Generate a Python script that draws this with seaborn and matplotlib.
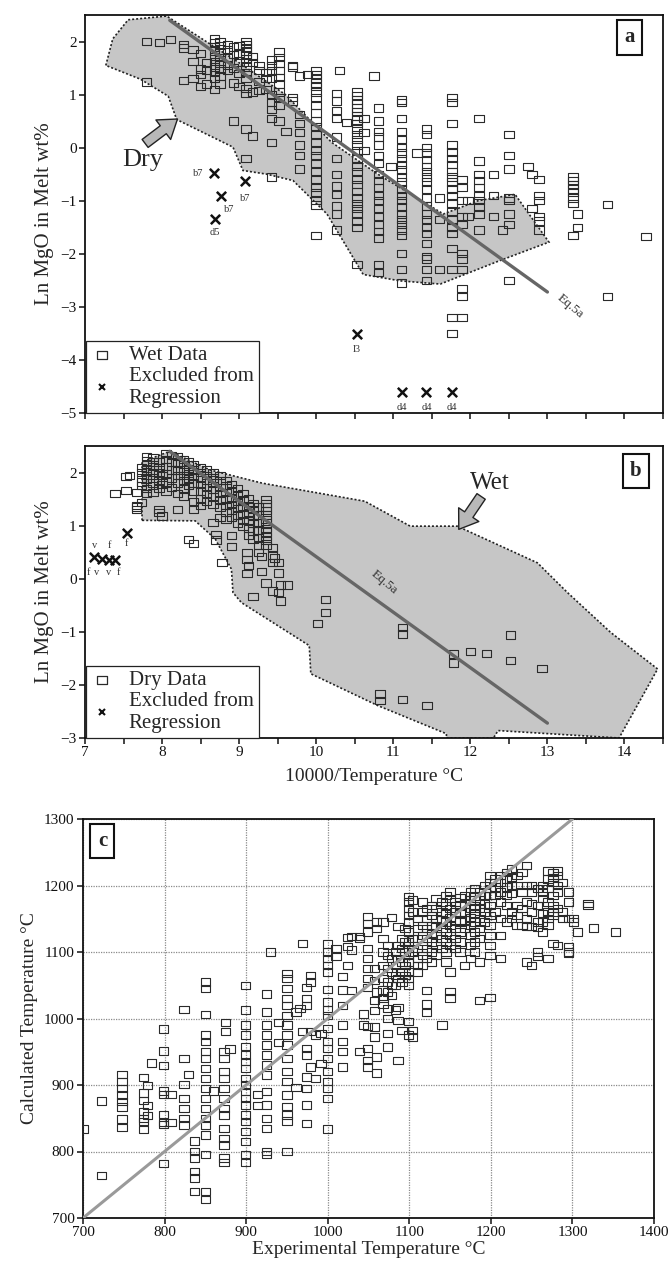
import numpy as np
import pandas as pd
import matplotlib
matplotlib.use("Agg")
import matplotlib.pyplot as plt
import seaborn as sns
from matplotlib.path import Path
from matplotlib.lines import Line2D

sns.set_style("ticks")
plt.rcParams["font.family"] = ["Liberation Serif", "DejaVu Serif"]
plt.rcParams["axes.edgecolor"] = "#111111"

# ---------------- Panel a : wet data (x = 10000/T, y = ln MgO) -------------
wet_x = [7.80, 7.97, 8.11, 8.28, 8.40, 8.50, 8.58, 8.68, 8.75, 8.85, 8.93, 9.00,
         9.09, 9.17, 9.26, 9.35, 9.42, 9.52, 9.61, 9.69, 9.78, 9.89, 10.0, 10.26,
         10.3, 10.39, 10.53, 10.62, 10.75, 10.81, 10.97, 11.11, 11.31, 11.43, 11.6,
         11.76, 11.89, 11.97, 12.11, 12.3, 12.42, 12.5, 12.75, 12.8, 12.89, 13.33,
         13.39, 13.78, 14.28]
wet_y = [[2.0, 1.24], [1.98], [2.04], [1.94, 1.88, 1.26], [1.85, 1.62, 1.3],
         [1.78, 1.48, 1.38, 1.15], [1.6, 1.45, 1.2],
         [2.05, 1.98, 1.9, 1.82, 1.72, 1.62, 1.52, 1.42, 1.3, 1.1],
         [2.0, 1.92, 1.8, 1.7, 1.58, 1.48, 1.35, 1.2],
         [1.95, 1.85, 1.7, 1.55, 1.45], [1.9, 1.75, 1.5, 1.22, 0.5],
         [1.92, 1.78, 1.6, 1.4, 1.15],
         [2.0, 1.95, 1.88, 1.82, 1.75, 1.68, 1.6, 1.52, 1.42, 1.3, 1.12, 1.02, 0.35, -0.2],
         [1.72, 1.6, 1.05, 0.22], [1.55, 1.45, 1.25, 1.08], [1.42, 1.3, 1.1],
         [1.65, 1.55, 1.45, 1.3, 1.0, 0.85, 0.72, 0.55, 0.1, -0.55],
         [1.8, 1.7, 1.58, 1.45, 1.32, 1.2, 1.05, 0.95, 0.8, 0.5], [0.3],
         [1.55, 1.52, 0.95, 0.88], [1.35, 0.62, 0.45, 0.28, 0.05, -0.15, -0.4], [1.38],
         [1.45, 1.38, 1.3, 1.22, 1.15, 1.05, 0.95, 0.8, 0.65, 0.5, 0.4, 0.25, 0.1,
          -0.05, -0.15, -0.3, -0.45, -0.6, -0.75, -0.85, -1.0, -1.08, -1.65],
         [1.02, 0.88, 0.7, 0.55, 0.2, -0.2, -0.5, -0.72, -0.88, -1.1, -1.25, -1.55],
         [1.45], [0.47],
         [1.05, 0.98, 0.9, 0.82, 0.75, 0.68, 0.6, 0.52, 0.45, 0.35, 0.25, 0.15, 0.05,
          -0.05, -0.2, -0.35, -0.45, -0.6, -0.7, -0.82, -0.95, -1.05, -1.15, -1.25,
          -1.38, -1.5, -2.2],
         [0.55, 0.28, -0.05], [1.35],
         [0.75, 0.5, 0.3, 0.2, 0.05, -0.15, -0.3, -0.5, -0.62, -0.75, -0.9, -1.0,
          -1.15, -1.3, -1.45, -1.58, -1.7, -2.2, -2.35],
         [-0.35],
         [0.9, 0.85, 0.55, 0.3, 0.15, 0.0, -0.1, -0.2, -0.32, -0.42, -0.55, -0.65,
          -0.78, -0.9, -1.0, -1.12, -1.25, -1.35, -1.45, -1.55, -1.65, -2.0, -2.3, -2.55],
         [-0.1],
         [0.35, 0.25, 0.0, -0.1, -0.22, -0.35, -0.45, -0.55, -0.65, -0.78, -0.95,
          -1.1, -1.25, -1.35, -1.5, -1.62, -1.8, -2.05, -2.1, -2.3, -2.5],
         [-0.95, -1.35, -2.3],
         [0.95, 0.85, 0.45, 0.05, -0.08, -0.2, -0.32, -0.45, -0.55, -0.65, -0.78,
          -0.9, -1.05, -1.2, -1.35, -1.5, -1.62, -1.9, -2.3, -3.2, -3.5],
         [-0.6, -0.75, -1.0, -1.3, -1.45, -2.0, -2.1, -2.3, -2.65, -2.8, -3.2],
         [-1.0, -1.3],
         [0.55, -0.25, -0.5, -0.62, -0.75, -0.9, -1.0, -1.12, -1.25, -1.55],
         [-0.5, -0.9, -1.3], [-1.55],
         [0.25, -0.15, -0.4, -0.95, -1.0, -1.25, -1.45, -2.5],
         [-0.35], [-0.5, -1.15], [-0.6, -0.9, -1.0, -1.3, -1.38, -1.55],
         [-0.55, -0.62, -0.7, -0.78, -0.85, -0.95, -1.05, -1.65],
         [-1.25, -1.5], [-1.07, -2.8], [-1.67]]

a_excl_x = [8.67, 9.08, 8.77, 8.69, 10.53, 11.11, 11.43, 11.76]
a_excl_y = [-0.48, -0.63, -0.91, -1.34, -3.51, -4.61, -4.61, -4.61]
a_excl_lab = ["b7", "b7", "b7", "d5", "l3", "d4", "d4", "d4"]
a_lab_x = [8.47, 9.08, 8.87, 8.69, 10.53, 11.11, 11.43, 11.76]
a_lab_y = [-0.48, -0.96, -1.17, -1.60, -3.80, -4.89, -4.89, -4.89]

dry_poly_x = [7.27, 7.36, 7.56, 8.06, 9.0, 9.6, 10.2, 10.8, 11.65, 12.1, 12.58,
              13.02, 12.38, 11.61, 11.09, 10.61, 10.14, 9.70, 9.36, 9.05, 8.92,
              8.19, 8.08, 7.72]
dry_poly_y = [1.55, 2.05, 2.41, 2.48, 1.6, 1.0, 0.1, -0.5, -1.25, -1.0, -0.88,
              -1.78, -2.13, -2.57, -2.51, -2.39, -1.25, -0.62, -0.50, -0.43, 0.01,
              0.53, 0.97, 1.29]

# ---------------- Panel b : dry data ---------------------------------------
dry_x = [7.39, 7.53, 7.58, 7.67, 7.73, 7.80, 7.88, 7.96, 8.0, 8.05, 8.12, 8.2,
         8.28, 8.34, 8.41, 8.5, 8.58, 8.66, 8.7, 8.75, 8.78, 8.83, 8.9, 8.98, 9.05,
         9.1, 9.12, 9.18, 9.25, 9.29, 9.35, 9.43, 9.46, 9.51, 9.54, 9.63, 10.02,
         10.12, 10.83, 11.12, 11.44, 11.78, 12.0, 12.21, 12.52, 12.93]
dry_y = [[1.6], [1.66, 1.92], [1.95], [1.62, 1.38, 1.3, 1.35],
         [2.1, 2.0, 1.9, 1.82, 1.75, 1.43],
         [2.3, 2.22, 2.15, 2.05, 1.95, 1.88, 1.7, 1.6],
         [2.28, 2.2, 2.12, 2.0, 1.9, 1.8, 1.62],
         [2.2, 2.1, 2.0, 1.85, 1.7, 1.3, 1.25], [1.18, 1.95, 1.78],
         [2.36, 2.25, 2.12, 1.98, 1.82, 1.65], [2.32, 2.2, 2.05, 1.9, 1.72],
         [2.3, 2.18, 2.05, 1.95, 1.8, 1.6, 1.3],
         [2.25, 2.15, 2.05, 1.95, 1.85, 1.7, 1.55],
         [2.2, 2.08, 1.98, 1.88, 1.75, 0.74],
         [2.15, 2.05, 1.92, 1.8, 1.65, 1.45, 1.3, 0.66],
         [2.1, 2.0, 1.9, 1.78, 1.65, 1.5, 1.38],
         [2.05, 1.95, 1.85, 1.72, 1.6, 1.45],
         [2.0, 1.9, 1.8, 1.68, 1.55, 1.4, 1.06], [0.83, 0.73],
         [1.95, 1.85, 1.72, 1.6, 1.48, 1.35, 1.15], [0.3],
         [1.85, 1.75, 1.62, 1.5, 1.38, 1.25, 1.12],
         [1.78, 1.65, 1.52, 1.4, 1.28, 1.15, 0.81, 0.61],
         [1.7, 1.58, 1.45, 1.32, 1.2, 1.05], [1.6, 1.48, 1.35, 1.22, 1.1, 0.98],
         [0.49, 0.36, 0.1], [1.5, 1.38, 1.25, 1.1, 0.95, 0.82, 0.25],
         [1.42, 1.3, 1.18, 1.05, 0.9, 0.75, -0.33],
         [1.35, 1.2, 1.05, 0.92, 0.78, 0.62, 0.5], [0.14, 0.42],
         [1.49, 1.42, 1.35, 1.28, 1.2, 1.12, 1.05, 0.95, 0.88, 0.8, 0.72, 0.62, -0.08],
         [0.58, 0.45, 0.3, -0.23], [0.39], [0.3, 0.11, -0.26], [-0.12, -0.42],
         [-0.12], [-0.84], [-0.39, -0.63], [-2.17, -2.29], [-0.92, -1.04, -2.28],
         [-2.39], [-1.42, -1.59], [-1.37], [-1.41], [-1.06, -1.54], [-1.69]]

b_excl_x = [7.12, 7.22, 7.31, 7.39, 7.54]
b_excl_y = [0.41, 0.38, 0.36, 0.36, 0.87]
b_lab_text = ["v", "f", "f", "v", "v", "f", "f"]
b_lab_x = [7.12, 7.32, 7.05, 7.15, 7.31, 7.44, 7.54]
b_lab_y = [0.62, 0.62, 0.12, 0.12, 0.12, 0.12, 0.66]

wet_poly_x = [7.74, 7.74, 8.1, 8.62, 9.3, 10.63, 11.22, 11.83, 12.87, 13.26, 13.82,
              14.43, 13.93, 12.36, 12.30, 11.69, 11.69, 10.8, 9.93, 9.91, 9.03,
              8.92, 8.90, 8.69, 8.43]
wet_poly_y = [1.10, 2.2, 2.4, 2.05, 1.8, 1.46, 0.99, 0.99, 0.30, -0.26, -1.01,
              -1.70, -3.0, -2.86, -3.0, -3.0, -2.92, -2.39, -1.79, -1.26, -0.45,
              -0.26, 0.18, 0.75, 1.09]

eq_x = [8.1, 13.0]
eq_y = [2.4, -2.72]

# ---------------- Panel c : experimental vs calculated T -------------------
c_exp = [700, 723, 748, 774, 779, 784, 799, 808, 824, 829, 837, 850, 860, 873,
         875, 880, 899, 914, 925, 930, 940, 950, 961, 966, 969, 974, 979, 985,
         992, 1000, 1010, 1018, 1024, 1029, 1039, 1044, 1049, 1057, 1060, 1068,
         1073, 1078, 1083, 1086, 1091, 1095, 1099, 1104, 1110, 1116, 1121, 1127,
         1133, 1140, 1145, 1150, 1156, 1162, 1168, 1175, 1180, 1186, 1192, 1199,
         1205, 1212, 1219, 1225, 1232, 1238, 1244, 1250, 1257, 1263, 1270, 1276,
         1282, 1288, 1295, 1301, 1306, 1319, 1326, 1353]
c_calc = [[834], [876, 764], [916, 905, 895, 885, 875, 867, 849, 836],
          [911, 888, 877, 860, 850, 845, 833], [899, 869, 854], [933],
          [984, 951, 929, 891, 886, 856, 844, 841, 782], [886, 844],
          [1014, 940, 901, 880, 865, 850, 840], [916],
          [816, 800, 790, 770, 760, 740],
          [1055, 1045, 1006, 975, 965, 950, 940, 925, 910, 895, 880, 865, 850,
           840, 825, 795, 740, 728],
          [891],
          [950, 940, 920, 910, 895, 880, 865, 855, 835, 820, 810, 790, 783],
          [994, 980], [954],
          [1050, 1013, 990, 975, 958, 945, 935, 925, 910, 900, 890, 880, 870, 855,
           845, 830, 815, 795, 783],
          [886, 869],
          [1037, 1010, 990, 975, 960, 945, 930, 915, 890, 870, 850, 835, 800, 795],
          [1100], [994, 964],
          [1068, 1060, 1045, 1030, 1020, 1005, 990, 975, 960, 940, 920, 905, 885,
           868, 855, 846, 800],
          [1010, 896], [1015], [1113, 980],
          [1047, 1030, 1020, 955, 945, 912, 895, 870, 842],
          [1065, 1055, 980, 927], [975, 910], [977, 932],
          [1112, 1100, 1090, 1080, 1070, 1044, 1025, 1013, 1005, 985, 965, 955,
           940, 920, 905, 895, 880, 834],
          [1105, 1093], [1063, 1043, 1020, 990, 965, 950, 927], [1122, 1108, 1080],
          [1123, 1103, 1042], [1123, 1120, 950], [1007, 990],
          [1153, 1143, 1130, 1105, 1090, 1075, 1060, 1047, 988, 955, 937, 927],
          [1075, 1057, 1027, 1012, 987, 972], [1145, 1135, 1040, 942, 918],
          [1145, 1120, 1100, 1080, 1060, 1043, 1030, 1022],
          [1110, 1095, 1075, 1055, 1040, 1015, 1000, 977, 957],
          [1152, 1090, 1070, 1050, 1035], [1100, 1080, 1065, 1050, 1013],
          [1138, 1110, 1090, 1060, 1017, 997, 937],
          [1120, 1105, 1085, 1070, 1055, 982], [1135, 1115, 1100, 1080, 1065],
          [1183, 1175, 1165, 1155, 1145, 1130, 1115, 1105, 1095, 1085, 1070, 1060,
           1050, 995, 975],
          [1178, 1160, 1120, 1100, 982, 972],
          [1150, 1135, 1120, 1105, 1090, 1080, 1070],
          [1175, 1160, 1140, 1125, 1110, 1095, 1080],
          [1165, 1150, 1135, 1120, 1105, 1090, 1042, 1022, 1009],
          [1170, 1155, 1140, 1128, 1115, 1100, 1085],
          [1180, 1165, 1150, 1138, 1125, 1110, 1095],
          [1175, 1160, 1148, 1135, 1120, 1105, 990],
          [1185, 1170, 1158, 1145, 1130, 1115, 1100, 1085],
          [1190, 1180, 1165, 1152, 1140, 1125, 1110, 1070, 1041, 1031],
          [1175, 1160, 1148, 1135, 1120, 1105],
          [1182, 1170, 1158, 1145, 1130, 1115, 1100],
          [1185, 1172, 1160, 1148, 1135, 1080],
          [1190, 1178, 1165, 1152, 1140, 1125, 1110, 1090],
          [1195, 1183, 1170, 1158, 1145, 1130, 1115, 1100],
          [1190, 1178, 1165, 1150, 1135, 1120, 1085, 1027],
          [1200, 1185, 1172, 1160, 1145],
          [1215, 1205, 1195, 1185, 1170, 1155, 1140, 1125, 1110, 1095, 1032],
          [1210, 1198, 1185, 1160],
          [1215, 1205, 1190, 1175, 1150, 1125, 1090],
          [1220, 1210, 1198, 1185, 1170, 1145],
          [1225, 1212, 1200, 1188, 1160, 1150],
          [1215, 1200, 1170, 1155, 1140], [1220, 1190, 1165, 1140],
          [1230, 1200, 1175, 1150, 1138, 1085],
          [1200, 1190, 1172, 1160, 1138, 1080],
          [1195, 1170, 1145, 1137, 1100, 1093],
          [1200, 1190, 1180, 1158, 1145, 1130],
          [1222, 1210, 1195, 1175, 1160, 1150, 1140, 1090],
          [1220, 1212, 1205, 1185, 1170, 1160, 1155, 1113],
          [1222, 1215, 1200, 1190, 1165, 1110], [1205, 1160, 1150],
          [1190, 1175, 1150, 1108, 1100, 1098], [1150, 1145], [1130],
          [1173, 1170], [1136], [1130]]
one_x = [700, 1300]
one_y = [700, 1300]


def columns_to_frame(xs, cols):
    xx, yy = [], []
    for xv, ys in zip(xs, cols):
        xx += [xv] * len(ys)
        yy += list(ys)
    return pd.DataFrame({"x": xx, "y": yy})


df_wet = columns_to_frame(wet_x, wet_y)
df_dry = columns_to_frame(dry_x, dry_y)
df_c = columns_to_frame(c_exp, c_calc)

rect = Path([(-1, -0.78), (1, -0.78), (1, 0.78), (-1, 0.78), (-1, -0.78)],
            [Path.MOVETO, Path.LINETO, Path.LINETO, Path.LINETO, Path.CLOSEPOLY])

EDGE = "#2a2a2a"
SHADE = "#c6c6c6"
LINEC = "#666666"
FS_TICK = 11
FS_LAB = 15


def squares(ax, df, s=46):
    sns.scatterplot(data=df, x="x", y="y", marker=rect, s=s, color=EDGE,
                    linewidth=0.8, ax=ax, legend=False, zorder=3)
    pts = ax.collections[-1]
    pts.set_facecolor("none")
    pts.set_edgecolor(EDGE)


def crosses(ax, xs, ys):
    sns.scatterplot(x=xs, y=ys, marker="x", s=45, color="#111111",
                    linewidth=1.8, ax=ax, legend=False, zorder=4)


def letter_box(ax, txt, x, y):
    ax.text(x, y, txt, transform=ax.transAxes, fontsize=15, fontweight="bold",
            ha="center", va="center", zorder=6,
            bbox=dict(boxstyle="square,pad=0.35", fc="white", ec="#111111", lw=1.5))


def legend(ax, first):
    h = [Line2D([], [], marker=rect, ls="none", mfc="none", mec=EDGE, ms=7, mew=0.9),
         Line2D([], [], marker="x", ls="none", mec="#111111", ms=5, mew=1.5)]
    leg = ax.legend(h, [first, "Excluded from\nRegression"], loc="lower left",
                    bbox_to_anchor=(0.002, 0.0), borderaxespad=0, fontsize=15,
                    frameon=True, fancybox=False, edgecolor="#222222",
                    framealpha=1, handlelength=1.0, handletextpad=0.8,
                    labelspacing=0.1, borderpad=0.25)
    leg.get_frame().set_linewidth(0.9)
    leg.set_zorder(7)
    try:
        for col in leg._legend_handle_box.get_children():
            for row in col.get_children():
                row.align = "center"
    except Exception:
        pass


fig = plt.figure(figsize=(6.69, 12.66), dpi=100)
W, H = 669.0, 1266.0
ax_a = fig.add_axes([85 / W, 1 - 413 / H, 578 / W, 398 / H])
ax_b = fig.add_axes([85 / W, 1 - 738 / H, 578 / W, 292 / H])
ax_c = fig.add_axes([83 / W, 1 - 1218 / H, 571 / W, 399 / H])

# ---------------- panel a --------------------------------------------------
ax = ax_a
ax.fill(dry_poly_x, dry_poly_y, facecolor=SHADE, edgecolor="#222222",
        linestyle=(0, (1.2, 1.2)), linewidth=1.2, zorder=1)
squares(ax, df_wet)
sns.lineplot(x=eq_x, y=eq_y, color=LINEC, linewidth=2.4, ax=ax, zorder=5)
crosses(ax, a_excl_x, a_excl_y)
for t, lx, ly in zip(a_excl_lab, a_lab_x, a_lab_y):
    ax.text(lx, ly, t, fontsize=7.5, color="#333333", ha="center", va="center")
ax.annotate("", xy=(8.20, 0.54), xytext=(7.78, 0.08),
            arrowprops=dict(arrowstyle="simple,head_length=0.8,head_width=1.1,tail_width=0.45",
                            fc="#b8b8b8", ec="#222222", lw=1.0, mutation_scale=16,
                            shrinkA=0, shrinkB=0))
ax.text(7.75, -0.24, "Dry", fontsize=19, ha="center", va="center")
ax.text(13.3, -2.98, "Eq.5a", fontsize=9.5, rotation=-40, ha="center", va="center",
        color="#333333")
letter_box(ax, "a", 0.942, 0.944)
legend(ax, "Wet Data")
ax.set_xlim(7, 14.5)
ax.set_ylim(-5, 2.5)
ax.set_yticks(np.arange(-5, 3, 1))
ax.set_xticks(np.arange(7, 14.51, 0.5))
ax.tick_params(axis="x", labelbottom=False)
ax.set_xlabel("")
ax.set_ylabel("Ln MgO in Melt wt%", fontsize=FS_LAB)
ax.yaxis.set_label_coords(-0.054, 0.5)

# ---------------- panel b --------------------------------------------------
ax = ax_b
ax.fill(wet_poly_x, wet_poly_y, facecolor=SHADE, edgecolor="#222222",
        linestyle=(0, (1.2, 1.2)), linewidth=1.2, zorder=1)
squares(ax, df_dry)
sns.lineplot(x=eq_x, y=eq_y, color=LINEC, linewidth=2.4, ax=ax, zorder=5)
crosses(ax, b_excl_x, b_excl_y)
for t, lx, ly in zip(b_lab_text, b_lab_x, b_lab_y):
    ax.text(lx, ly, t, fontsize=7.5, color="#333333", ha="center", va="center")
ax.annotate("", xy=(11.85, 0.93), xytext=(12.14, 1.55),
            arrowprops=dict(arrowstyle="simple,head_length=0.8,head_width=1.1,tail_width=0.45",
                            fc="#b8b8b8", ec="#222222", lw=1.0, mutation_scale=16,
                            shrinkA=0, shrinkB=0))
ax.text(12.25, 1.80, "Wet", fontsize=18, ha="center", va="center")
ax.text(10.88, -0.07, "Eq.5a", fontsize=9.5, rotation=-40, ha="center", va="center",
        color="#333333")
letter_box(ax, "b", 0.953, 0.915)
legend(ax, "Dry Data")
ax.set_xlim(7, 14.5)
ax.set_ylim(-3, 2.5)
ax.set_yticks(np.arange(-3, 3, 1))
xt = np.arange(7, 14.51, 0.5)
ax.set_xticks(xt)
ax.set_xticklabels([f"{int(v)}" if v == int(v) else "" for v in xt])
ax.set_xlabel("10000/Temperature °C", fontsize=FS_LAB - 1, labelpad=6)
ax.set_ylabel("Ln MgO in Melt wt%", fontsize=FS_LAB)
ax.yaxis.set_label_coords(-0.054, 0.5)

# ---------------- panel c --------------------------------------------------
ax = ax_c
ax.grid(True, linestyle=(0, (1, 1)), color="#8a8a8a", linewidth=0.9, zorder=0)
ax.set_axisbelow(True)
squares(ax, df_c)
sns.lineplot(x=one_x, y=one_y, color="#9a9a9a", linewidth=2.2, ax=ax, zorder=5)
letter_box(ax, "c", 0.034, 0.945)
ax.set_xlim(700, 1400)
ax.set_ylim(700, 1300)
ax.set_xticks(np.arange(700, 1401, 100))
ax.set_yticks(np.arange(700, 1301, 100))
ax.set_xlabel("Experimental Temperature °C", fontsize=FS_LAB - 1, labelpad=1)
ax.set_ylabel("Calculated Temperature °C", fontsize=FS_LAB - 1)
ax.yaxis.set_label_coords(-0.079, 0.5)

for ax in (ax_a, ax_b, ax_c):
    for sp in ax.spines.values():
        sp.set_visible(True)
        sp.set_linewidth(1.3)
    ax.tick_params(direction="out", length=4, width=1.1, labelsize=FS_TICK,
                   colors="#111111", pad=2)

fig.savefig("out.png", dpi=100)
